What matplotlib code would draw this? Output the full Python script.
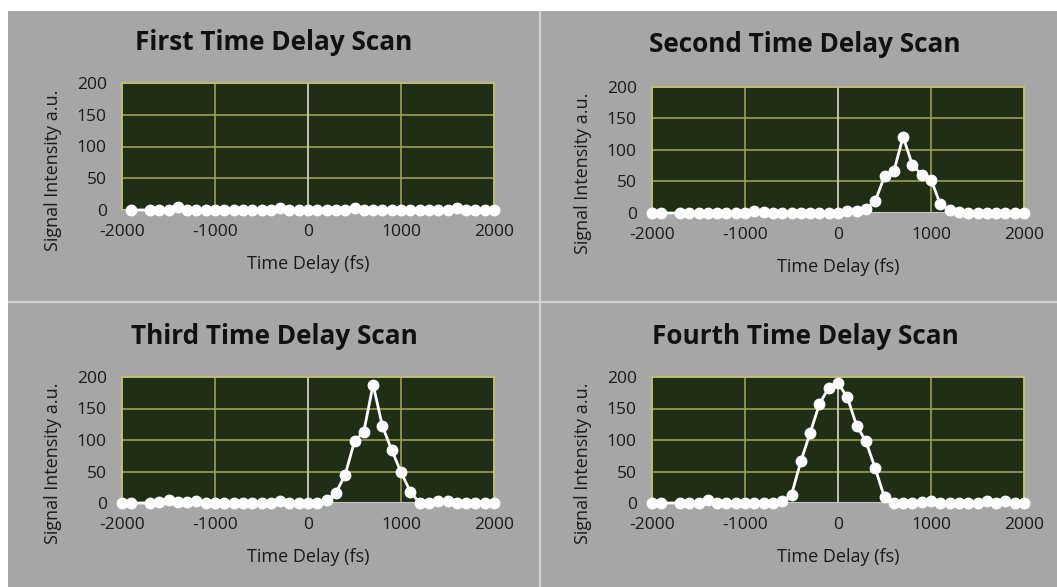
import numpy as np
import matplotlib
matplotlib.use('Agg')
import matplotlib.pyplot as plt
from matplotlib.patches import Rectangle
from matplotlib.lines import Line2D

plt.rcParams['axes.unicode_minus'] = False

# dados
atraso_fs = [-2000, -1900, -1700, -1600, -1500, -1400, -1300, -1200, -1100, -1000,
             -900, -800, -700, -600, -500, -400, -300, -200, -100, 0,
             100, 200, 300, 400, 500, 600, 700, 800, 900, 1000,
             1100, 1200, 1300, 1400, 1500, 1600, 1700, 1800, 1900, 2000]

scan1 = [np.nan, 0, 0, 0, 0, 4, 0, 0, 0, 0,
         0, 0, 0, 0, 0, 0, 3, 0, 0, 0,
         0, 0, 0, 0, 3, 0, 0, 0, 0, 0,
         0, 0, 0, 0, 0, 3, 0, 0, 0, 0]

scan2 = [0, 0, 0, 0, 0, 0, 0, 0, 0, 0,
         3, 1, 0, 0, 0, 0, 0, 0, 0, 0,
         3, 3, 7, 19, 58, 66, 121, 76, 61, 53,
         14, 4, 2, 0, 0, 0, 0, 0, 0, 0]

scan3 = [0, 0, 0, 1, 4, 1, 1, 3, 0, 0,
         0, 0, 0, 0, 0, 0, 3, 0, 0, 0,
         0, 4, 16, 45, 98, 113, 188, 122, 84, 49,
         18, 0, 0, 3, 3, 0, 0, 0, 0, 0]

scan4 = [0, 0, 0, 0, 0, 4, 0, 0, 0, 0,
         0, 0, 0, 3, 13, 66, 111, 157, 183, 190,
         168, 123, 98, 55, 9, 0, 0, 0, 2, 3,
         0, 0, 0, 0, 0, 3, 0, 3, 0, 0]

titulos = ['First Time Delay Scan', 'Second Time Delay Scan',
           'Third Time Delay Scan', 'Fourth Time Delay Scan']
series = [scan1, scan2, scan3, scan4]

W, H = 1057, 587
cinza = '#a6a6a6'
fig = plt.figure(figsize=(W / 100, H / 100), dpi=100, facecolor=cinza)

# faixas brancas e divisórias
fig.patches.append(Rectangle((0, 1 - 11 / H), 1, 11 / H, transform=fig.transFigure,
                             facecolor='white', edgecolor='none', zorder=-1))
fig.patches.append(Rectangle((0, 0), 8 / W, 1, transform=fig.transFigure,
                             facecolor='white', edgecolor='none', zorder=-1))
fig.lines.append(Line2D([540 / W, 540 / W], [0, 1 - 11 / H], transform=fig.transFigure,
                        color='#d2d2d2', lw=1.6, zorder=-1))
fig.lines.append(Line2D([8 / W, 1], [1 - 302 / H, 1 - 302 / H], transform=fig.transFigure,
                        color='#d2d2d2', lw=1.6, zorder=-1))

# caixas dos eixos em pixels: (esquerda, topo, direita, base)
caixas = [(122, 83, 494, 210), (652, 87, 1024, 213),
          (122, 377, 494, 503), (652, 377, 1024, 503)]
# posição dos títulos (centro do painel), em pixels
pos_titulos = [(274, 43), (805, 45), (274, 336), (805, 336)]

fonte = 'Open Sans'

for caixa, titulo, pt, y in zip(caixas, titulos, pos_titulos, series):
    x0, t, x1, b = caixa
    ax = fig.add_axes([x0 / W, 1 - b / H, (x1 - x0) / W, (b - t) / H])
    ax.set_zorder(3)
    ax.set_facecolor('#1f2e14')
    ax.set_xlim(-2000, 2000)
    ax.set_ylim(0, 200)
    ax.set_xticks([-2000, -1000, 0, 1000, 2000])
    ax.set_yticks([0, 50, 100, 150, 200])
    ax.grid(True, color='#9c9f55', lw=1.2, zorder=1)
    ax.axvline(0, color='#c8c8c8', lw=1.2, zorder=2)
    ax.axhline(0, color='#c8c8c8', lw=1.5, zorder=2)
    for lado in ['top', 'right', 'left']:
        ax.spines[lado].set_color('#c3c36e')
        ax.spines[lado].set_linewidth(1.2)
    ax.spines['bottom'].set_visible(False)
    ax.tick_params(length=0, labelsize=12.5, labelcolor='#1a1a1a')
    for rot in ax.get_xticklabels() + ax.get_yticklabels():
        rot.set_fontfamily(fonte)
    ax.xaxis.set_tick_params(pad=10)
    ax.yaxis.set_tick_params(pad=11)

    ax.plot(atraso_fs, y, color='white', lw=2, marker='o', ms=7.5,
            markeredgecolor='white', clip_on=False, zorder=5)

    fig.text(pt[0] / W, 1 - pt[1] / H, titulo, fontsize=18.8, fontweight='bold',
             family=fonte, color='#111111', ha='center', va='center')
    ax.set_xlabel('Time Delay (fs)', fontsize=13, family=fonte, color='#1a1a1a', labelpad=11)
    ax.set_ylabel('Signal Intensity a.u.', fontsize=13, family=fonte, color='#1a1a1a')
    ax.yaxis.set_label_coords(-60 / (x1 - x0), 0.315)

plt.savefig('out.png', dpi=100, facecolor=cinza)
